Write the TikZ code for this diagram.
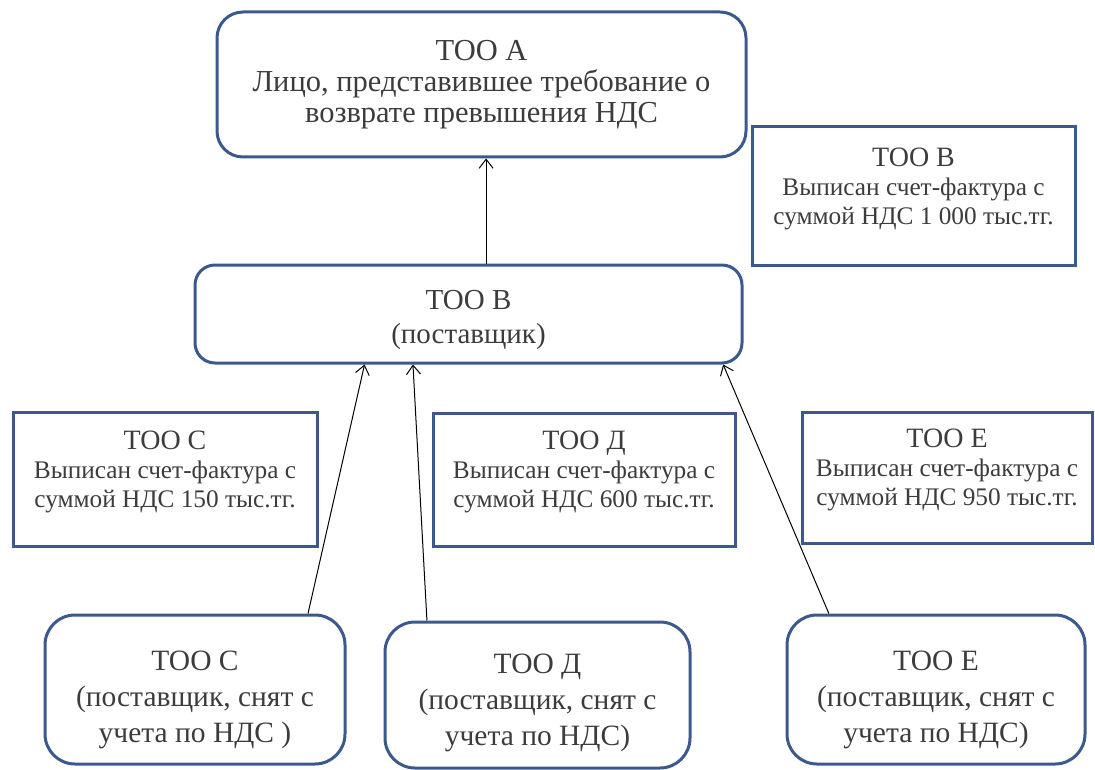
\documentclass[tikz,border=0pt]{standalone}
\usepackage{fontspec}
\setmainfont{Liberation Serif}
\usetikzlibrary{arrows.meta,calc}

\definecolor{frameblue}{RGB}{59,89,140}
\definecolor{textgray}{RGB}{60,60,60}

\tikzset{
  roundbox/.style={draw=frameblue,line width=3pt,rounded corners=26pt,align=center,text=textgray,inner sep=0pt,font=\fontsize{30.5}{31}\selectfont},
  lowbox/.style={roundbox,rounded corners=30pt,font=\fontsize{29.5}{36}\selectfont},
  infobox/.style={draw=frameblue,line width=3pt,align=center,text=textgray,inner sep=0pt,font=\fontsize{25.3}{29}\selectfont,execute at end node={\rule[-20pt]{0pt}{20pt}}},
  link/.style={black,line width=1pt,-{Straight Barb[length=9pt,width=14pt]}}
}
\newcommand{\infotitle}[1]{{\fontsize{28}{31}\selectfont #1}}
\newcommand{\topgap}[1]{\rule{0pt}{#1}}

\begin{document}
\begin{tikzpicture}[x=1pt,y=-1pt]
\useasboundingbox (0,0) rectangle (1095,770);

\node[roundbox,minimum width=529,minimum height=145] (tooA) at (481.5,84.5) {ТОО А\\Лицо, представившее требование о\\возврате превышения НДС};
\node[infobox,minimum width=323,minimum height=138] (infoB) at (913.5,196) {\infotitle{ТОО В}\\Выписан счет-фактура с\\суммой НДС 1 000 тыс.тг.};
\node[roundbox,rounded corners=20pt,font=\fontsize{29}{34}\selectfont,minimum width=547,minimum height=98] (tooB) at (468.5,314) {\topgap{32pt}ТОО В\\(поставщик)};

\node[infobox,minimum width=304,minimum height=134] (infoC) at (165,479) {\infotitle{ТОО С}\\Выписан счет-фактура с\\суммой НДС 150 тыс.тг.};
\node[infobox,minimum width=302,minimum height=133] (infoD) at (584,479.5) {\infotitle{ТОО Д}\\Выписан счет-фактура с\\суммой НДС 600 тыс.тг.};
\node[infobox,minimum width=290,minimum height=131] (infoE) at (947,477.5) {\infotitle{ТОО Е}\\Выписан счет-фактура с\\суммой НДС 950 тыс.тг.};

\node[lowbox,minimum width=300,minimum height=149] (tooC) at (195,689.5) {\topgap{40pt}ТОО С\\(поставщик, снят с\\учета по НДС )};
\node[lowbox,minimum width=305,minimum height=146] (tooD) at (537.5,695) {\topgap{36pt}ТОО Д\\(поставщик, снят с\\учета по НДС)};
\node[lowbox,minimum width=298,minimum height=149] (tooE) at (936,689.5) {\topgap{40pt}ТОО Е\\(поставщик, снят с\\учета по НДС)};

\coordinate (upB) at ($(tooB.north west)!0.532!(tooB.north east)$);
\draw[link] (upB) -- (upB |- tooA.south);
\draw[link] ($(tooC.north west)!0.873!(tooC.north east)$) -- ($(tooB.south west)!0.311!(tooB.south east)$);
\draw[link] ($(tooD.north west)!0.141!(tooD.north east)$) -- ($(tooB.south west)!0.399!(tooB.south east)$);
\draw[link] ($(tooE.north west)!0.144!(tooE.north east)$) -- ($(tooB.south west)!0.963!(tooB.south east)$);

\end{tikzpicture}
\end{document}
